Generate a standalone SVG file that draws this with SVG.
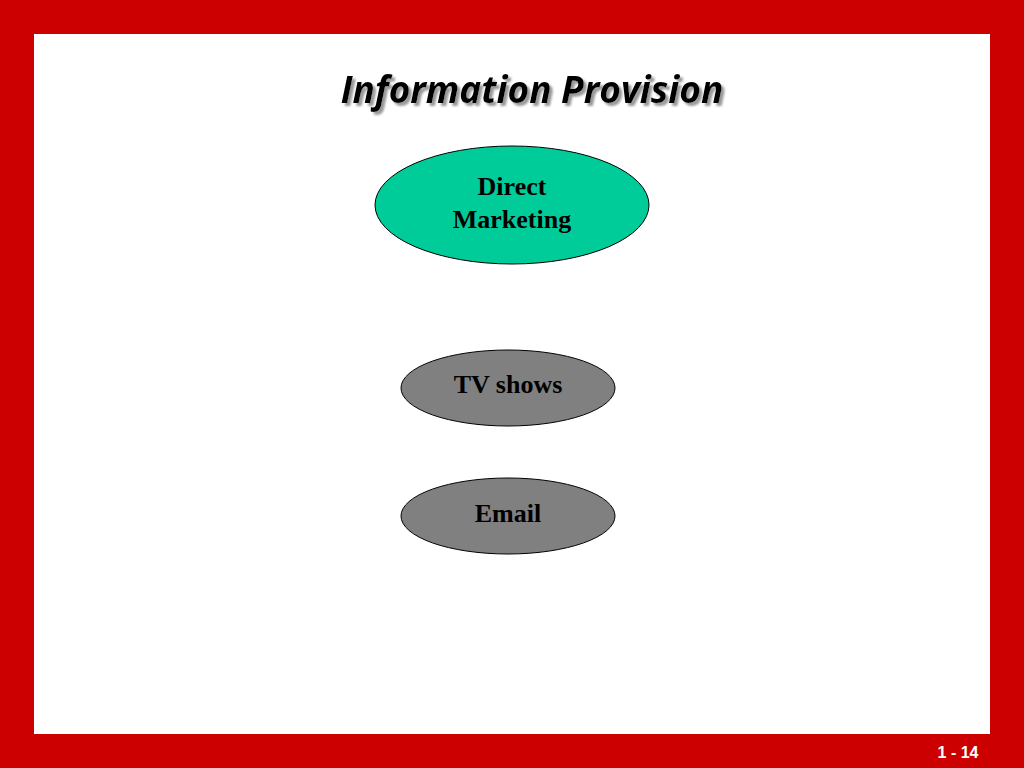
<svg xmlns="http://www.w3.org/2000/svg" width="1024" height="768" viewBox="0 0 1024 768">
<defs><filter id="sh" x="-5%" y="-20%" width="110%" height="150%"><feDropShadow dx="3" dy="3" stdDeviation="1" flood-color="#999" flood-opacity="1"/></filter></defs>
<style>
.n{font-family:"Liberation Serif",serif;font-weight:bold;font-size:26px;fill:#000;text-anchor:middle}
.e{stroke:#000;stroke-width:1}
</style>
<rect width="1024" height="768" fill="#cc0000"/>
<rect x="34" y="34" width="956" height="700" fill="#fff"/>
<g id="title" filter="url(#sh)">
<text x="532" y="103" font-family="'Open Sans','DejaVu Sans',sans-serif" font-weight="bold" font-style="italic" font-size="37" text-anchor="middle" fill="#000">Information Provision</text>
</g>
<g id="direct-marketing"><ellipse class="e" cx="512" cy="205" rx="137" ry="59" fill="#00cc99"/><text class="n" x="512" y="195">Direct</text><text class="n" x="512" y="228">Marketing</text></g>
<g id="tv-shows"><ellipse class="e" cx="508" cy="388" rx="107" ry="38" fill="#808080"/><text class="n" x="508" y="393">TV shows</text></g>
<g id="email"><ellipse class="e" cx="508" cy="516" rx="107" ry="38" fill="#808080"/><text class="n" x="508" y="522">Email</text></g>
<g id="connectors"/>
<text x="958" y="758" font-family="'Liberation Sans',sans-serif" font-weight="bold" font-size="16" fill="#fff" text-anchor="middle">1 - 14</text>
</svg>
